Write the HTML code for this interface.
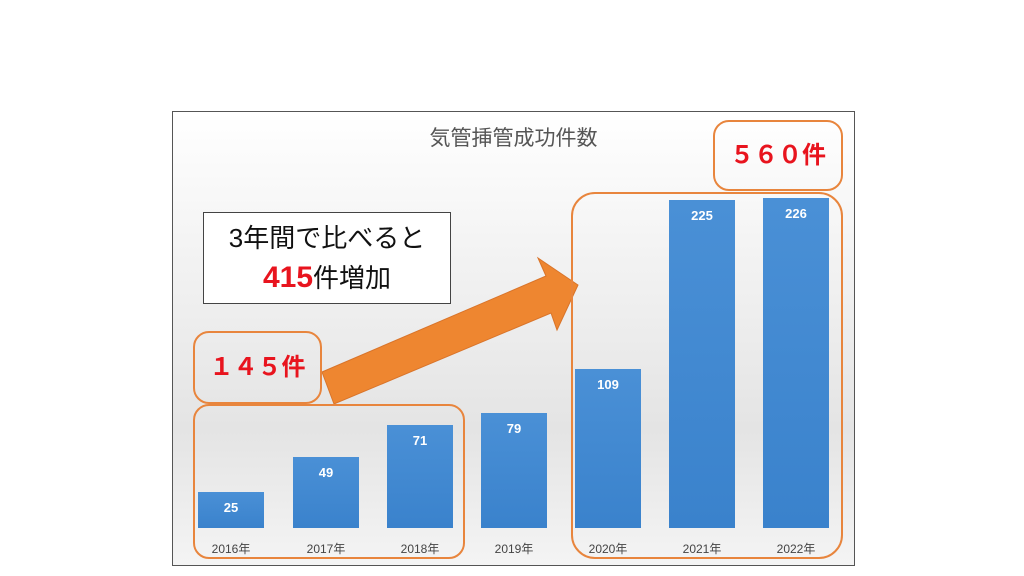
<!DOCTYPE html>
<html><head><meta charset="utf-8"><style>
body{margin:0;width:1024px;height:576px;background:#fff;overflow:hidden;position:relative;font-family:"Liberation Sans","Noto Sans CJK JP",sans-serif}
.frame{position:absolute;left:172px;top:111px;width:683px;height:455px;border:1px solid #555;background:linear-gradient(#fff,#e4e4e4 70%,#f4f4f4);box-sizing:border-box}
.bar{position:absolute;width:66px;background:linear-gradient(#4a90d6,#3a82cc);color:#fff;font-weight:bold;font-size:13px;text-align:center;padding-top:8px;box-sizing:border-box}
.yr{position:absolute;top:540px;width:80px;text-align:center;font-size:12px;color:#444}
.ob{position:absolute;border:2px solid #e8853d;border-radius:16px;box-sizing:border-box}
</style></head><body>
<div class="frame"></div>
<div style="position:absolute;left:172px;width:683px;top:122px;text-align:center;font-size:21px;color:#555">気管挿管成功件数</div>
<div class="bar" style="left:198px;top:492px;height:36px">25</div>
<div class="bar" style="left:293px;top:457px;height:71px">49</div>
<div class="bar" style="left:387px;top:425px;height:103px">71</div>
<div class="bar" style="left:481px;top:413px;height:115px">79</div>
<div class="bar" style="left:575px;top:369px;height:159px">109</div>
<div class="bar" style="left:669px;top:200px;height:328px">225</div>
<div class="bar" style="left:763px;top:198px;height:330px">226</div>
<div class="yr" style="left:191px">2016年</div>
<div class="yr" style="left:286px">2017年</div>
<div class="yr" style="left:380px">2018年</div>
<div class="yr" style="left:474px">2019年</div>
<div class="yr" style="left:568px">2020年</div>
<div class="yr" style="left:662px">2021年</div>
<div class="yr" style="left:756px">2022年</div>
<div style="position:absolute;left:203px;top:212px;width:248px;height:92px;border:1px solid #444;background:#fff;box-sizing:border-box;text-align:center;font-size:26px;line-height:40px;padding-top:5px;color:#111">3年間で比べると<br><span style="color:#e8141e;font-weight:bold;font-size:30px">415</span>件増加</div>
<svg style="position:absolute;left:0;top:0" width="1024" height="576">
<polygon points="322,372 546,276 538,258 578,285 557,330 551,313 334,404" fill="#ee8630" stroke="#d9742a" stroke-width="1"/>
</svg>
<div class="ob" style="left:193px;top:331px;width:129px;height:73px;color:#e8141e;font-weight:bold;font-size:24px;line-height:69px;text-align:center">１４５件</div>
<div class="ob" style="left:193px;top:404px;width:272px;height:155px"></div>
<div class="ob" style="left:571px;top:192px;width:272px;height:367px;border-radius:24px"></div>
<div class="ob" style="left:713px;top:120px;width:130px;height:71px;color:#e8141e;font-weight:bold;font-size:24px;line-height:67px;text-align:center">５６０件</div>
</body></html>
